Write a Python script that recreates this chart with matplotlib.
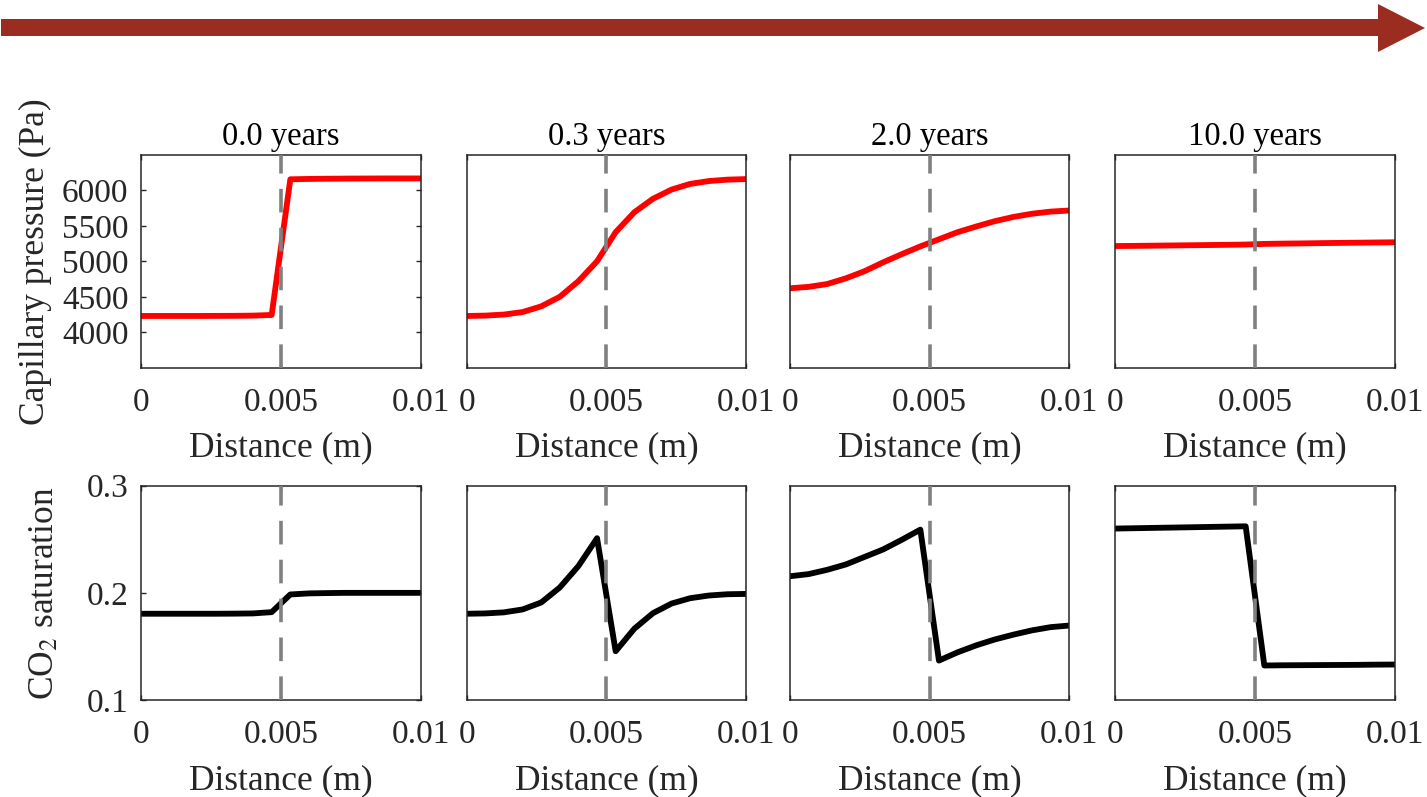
import matplotlib
matplotlib.use("Agg")
import matplotlib.pyplot as plt
from matplotlib.patches import Polygon

plt.rcParams["font.family"] = ["Liberation Serif", "DejaVu Serif"]
plt.rcParams["mathtext.fontset"] = "stix"
plt.rcParams["lines.scale_dashes"] = False

# Sample positions along the core (m)
distance = [0.0, 0.000667, 0.001333, 0.002, 0.002667, 0.003333, 0.004, 0.004667,
            0.005333, 0.006, 0.006667, 0.007333, 0.008, 0.008667, 0.009333, 0.01]

times = ["0.0 years", "0.3 years", "2.0 years", "10.0 years"]

# Capillary pressure (Pa) at each time
pc_t0 = [4230, 4230, 4230, 4230, 4231, 4232, 4235, 4244,
         6155, 6160, 6163, 6165, 6166, 6167, 6167, 6167]
pc_t1 = [4230, 4235, 4250, 4285, 4365, 4500, 4720, 5000,
         5410, 5690, 5880, 6010, 6090, 6130, 6150, 6158]
pc_t2 = [4620, 4640, 4680, 4760, 4860, 4985, 5100, 5210,
         5310, 5410, 5490, 5565, 5625, 5670, 5700, 5715]
pc_t3 = [5215, 5217, 5220, 5223, 5226, 5229, 5232, 5236,
         5245, 5249, 5252, 5256, 5259, 5262, 5265, 5268]

# CO2 saturation at each time
sat_t0 = [0.1805, 0.1805, 0.1805, 0.1805, 0.1805, 0.1806, 0.1808, 0.1820,
          0.1985, 0.1995, 0.1998, 0.2000, 0.2000, 0.2000, 0.2000, 0.2000]
sat_t1 = [0.1805, 0.1808, 0.1818, 0.1845, 0.1910, 0.2050, 0.2250, 0.2510,
          0.1455, 0.1665, 0.1810, 0.1900, 0.1950, 0.1975, 0.1987, 0.1990]
sat_t2 = [0.2155, 0.2175, 0.2215, 0.2265, 0.2335, 0.2405, 0.2495, 0.2590,
          0.1368, 0.1445, 0.1510, 0.1565, 0.1610, 0.1650, 0.1680, 0.1695]
sat_t3 = [0.2600, 0.2603, 0.2606, 0.2609, 0.2612, 0.2615, 0.2618, 0.2621,
          0.1322, 0.1324, 0.1325, 0.1326, 0.1327, 0.1328, 0.1330, 0.1331]

pc_series = [pc_t0, pc_t1, pc_t2, pc_t3]
sat_series = [sat_t0, sat_t1, sat_t2, sat_t3]

interface = 0.005
x_ticks = [0, 0.005, 0.01]
x_ticklabels = ["0", "0.005", "0.01"]
pc_ticks = [4000, 4500, 5000, 5500, 6000]
sat_ticks = [0.1, 0.2, 0.3]
sat_ticklabels = ["0.1", "0.2", "0.3"]

W, H = 1427, 797
fig = plt.figure(figsize=(W / 100, H / 100), dpi=100)

text_color = "#262626"
col_left = [141, 466.7, 790, 1115]
col_width = [280, 279.3, 279.3, 280]
row_top = [154.8, 485.7]
row_bottom = [367.8, 700.0]


def make_axes(col, row):
    l = col_left[col] / W
    b = 1 - row_bottom[row] / H
    w = col_width[col] / W
    h = (row_bottom[row] - row_top[row]) / H
    return fig.add_axes([l, b, w, h])


def style(ax):
    for s in ax.spines.values():
        s.set_color(text_color)
        s.set_linewidth(1.1)
    ax.tick_params(direction="in", length=3.5, width=1.0, colors=text_color,
                   labelsize=24, top=True, right=True)
    ax.tick_params(axis="x", pad=14)
    ax.tick_params(axis="y", pad=9)
    ax.set_xlim(0, 0.01)
    ax.set_xticks(x_ticks)
    ax.set_xticklabels(x_ticklabels)
    ax.set_xlabel("Distance (m)", fontsize=25.5, color=text_color, labelpad=10)
    ax.axvline(interface, color="#808080", lw=2.6, dashes=(17, 11), zorder=3)


for i in range(4):
    ax = make_axes(i, 0)
    style(ax)
    ax.plot(distance, pc_series[i], color="red", lw=4.2, zorder=2,
            solid_joinstyle="round")
    ax.set_ylim(3500, 6500)
    ax.set_title(times[i], fontsize=23.5, color="black", pad=7)
    if i == 0:
        ax.set_yticks(pc_ticks)
        ax.set_ylabel("Capillary pressure (Pa)", fontsize=25.5, color=text_color,
                      labelpad=7)
    else:
        ax.set_yticks([])

    ax2 = make_axes(i, 1)
    style(ax2)
    ax2.plot(distance, sat_series[i], color="black", lw=4.2, zorder=2,
             solid_joinstyle="round")
    ax2.set_ylim(0.1, 0.3)
    if i == 0:
        ax2.set_yticks(sat_ticks)
        ax2.set_yticklabels(sat_ticklabels)
        ax2.set_ylabel("CO$_2$ saturation", fontsize=25.5, color=text_color,
                       labelpad=18)
    else:
        ax2.set_yticks([])

# Time arrow across the top
overlay = fig.add_axes([0, 0, 1, 1], zorder=-1)
overlay.set_xlim(0, W)
overlay.set_ylim(H, 0)
overlay.axis("off")
arrow = Polygon([(1, 19), (1378, 19), (1378, 4), (1425, 28), (1378, 52),
                 (1378, 36), (1, 36)], closed=True, facecolor="#9B2D20",
                edgecolor="none")
overlay.add_patch(arrow)

fig.savefig("out.png", dpi=100)
